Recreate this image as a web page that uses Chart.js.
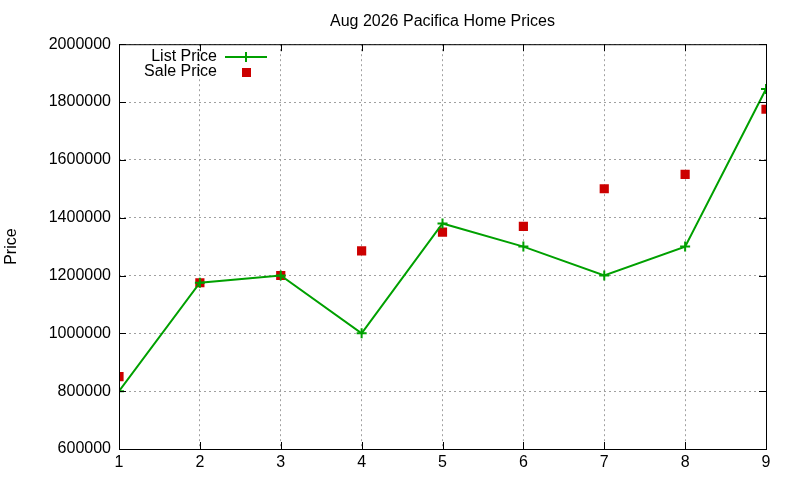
<!DOCTYPE html>
<html lang="en">
<head>
  <meta charset="UTF-8">
  <title>Aug 2026 Pacifica Home Prices</title>
  <script src="https://cdn.jsdelivr.net/npm/chart.js"></script>
  <style>
    html, body { margin: 0; padding: 0; background: #fff; }
    #wrap { width: 800px; height: 480px; }
  </style>
</head>
<body>

<div id="wrap">
  <canvas id="priceChart" width="800" height="480"></canvas>
</div>

<script>
const months = [1, 2, 3, 4, 5, 6, 7, 8, 9];
const listPrice = [800000, 1175000, 1200000, 1000000, 1380000, 1300000, 1200000, 1300000, 1845000];
const salePrice = [850000, 1175000, 1200000, 1285000, 1350000, 1370000, 1500000, 1550000, 1775000];
const yTicks = [600000, 800000, 1000000, 1200000, 1400000, 1600000, 1800000, 2000000];

const FONT = "'Liberation Sans', Arial, sans-serif";

// gnuplot style: full border, ticks pointing inward on all four sides, key in the top left
const gnuplotFrame = {
  id: 'gnuplotFrame',
  afterDraw(chart) {
    const { ctx, chartArea: a, scales } = chart;
    ctx.save();
    ctx.strokeStyle = '#000';
    ctx.lineWidth = 1;
    ctx.strokeRect(a.left + 0.5, a.top + 0.5, a.right - a.left, a.bottom - a.top);

    ctx.beginPath();
    yTicks.forEach(v => {
      const y = Math.round(scales.y.getPixelForValue(v)) + 0.5;
      ctx.moveTo(a.left, y); ctx.lineTo(a.left + 7, y);
      ctx.moveTo(a.right, y); ctx.lineTo(a.right - 7, y);
    });
    months.forEach(v => {
      const x = Math.round(scales.x.getPixelForValue(v)) + 0.5;
      ctx.moveTo(x, a.bottom); ctx.lineTo(x, a.bottom - 7);
      ctx.moveTo(x, a.top); ctx.lineTo(x, a.top + 7);
    });
    ctx.stroke();

    // key
    ctx.font = '16px ' + FONT;
    ctx.fillStyle = '#000';
    ctx.textAlign = 'right';
    ctx.textBaseline = 'middle';
    const ds = chart.data.datasets;
    const keyX = 217, sx = 246;
    ds.forEach((d, i) => {
      const y = 57 + i * 15;
      ctx.fillText(d.label, keyX, y);
      if (d.showLine !== false) {
        ctx.strokeStyle = d.borderColor;
        ctx.lineWidth = 2;
        ctx.beginPath();
        ctx.moveTo(225, y); ctx.lineTo(267, y);
        ctx.moveTo(sx - 5, y); ctx.lineTo(sx + 5, y);
        ctx.moveTo(sx, y - 5); ctx.lineTo(sx, y + 5);
        ctx.stroke();
      } else {
        ctx.fillStyle = d.backgroundColor;
        ctx.fillRect(sx - 4, y - 4, 9, 9);
        ctx.fillStyle = '#000';
      }
    });
    ctx.restore();
  }
};

const ctx = document.getElementById('priceChart').getContext('2d');
new Chart(ctx, {
  type: 'scatter',
  data: {
    datasets: [
      {
        label: 'List Price',
        data: months.map((m, i) => ({ x: m, y: listPrice[i] })),
        showLine: true,
        borderColor: '#00a000',
        backgroundColor: '#00a000',
        borderWidth: 2,
        pointStyle: 'cross',
        pointRadius: 5,
        pointBorderWidth: 2,
        tension: 0
      },
      {
        label: 'Sale Price',
        data: months.map((m, i) => ({ x: m, y: salePrice[i] })),
        showLine: false,
        borderColor: '#cc0000',
        backgroundColor: '#cc0000',
        pointStyle: 'rect',
        pointRadius: 6.5,
        pointBorderWidth: 0
      }
    ]
  },
  options: {
    responsive: false,
    animation: false,
    layout: { padding: { left: 0, right: 34, top: 0, bottom: 0 } },
    plugins: {
      legend: { display: false },
      tooltip: { enabled: false },
      title: {
        display: true,
        fullSize: false,
        text: 'Aug 2026 Pacifica Home Prices',
        color: '#000',
        font: { family: FONT, size: 16, weight: 'normal' },
        padding: { top: 12, bottom: 13 }
      }
    },
    scales: {
      x: {
        type: 'linear',
        min: 1,
        max: 9,
        afterFit(scale) { scale.height = 31; },
        ticks: { stepSize: 1, color: '#000', padding: 4, font: { family: FONT, size: 16 } },
        grid: { color: '#a0a0a0', lineWidth: 1, drawTicks: false },
        border: { display: false, dash: [2, 3] }
      },
      y: {
        min: 600000,
        max: 2000000,
        afterFit(scale) { scale.width = 119; },
        afterBuildTicks(scale) { scale.ticks = yTicks.map(v => ({ value: v })); },
        ticks: {
          color: '#000',
          padding: 8,
          font: { family: FONT, size: 16 },
          callback: v => String(v)
        },
        grid: { color: '#a0a0a0', lineWidth: 1, drawTicks: false },
        border: { display: false, dash: [2, 3] },
        title: {
          display: true,
          text: 'Price',
          color: '#000',
          font: { family: FONT, size: 16 },
          padding: { top: 2, bottom: 0 }
        }
      }
    }
  },
  plugins: [gnuplotFrame]
});
</script>

</body>
</html>
